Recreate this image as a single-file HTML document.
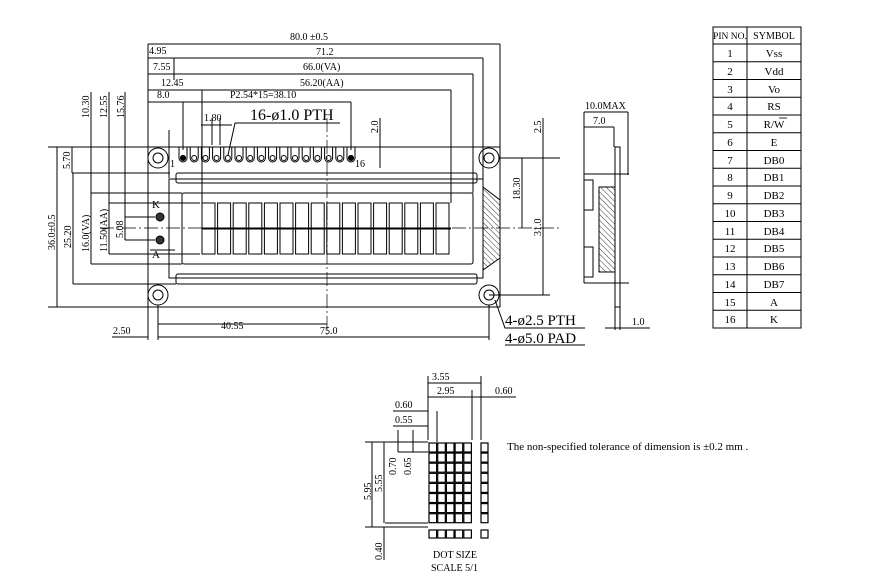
<!DOCTYPE html>
<html><head><meta charset="utf-8"><style>
html,body{margin:0;padding:0;background:#fff}
svg{display:block;font-family:"Liberation Serif",serif}
text{fill:#000}
</style></head><body>
<svg id="s" width="869" height="586" viewBox="0 0 869 586" xmlns="http://www.w3.org/2000/svg">
<defs>
<pattern id="h" width="4" height="4" patternUnits="userSpaceOnUse" patternTransform="rotate(-45)"><line x1="0" y1="0" x2="0" y2="4" stroke="#000" stroke-width="0.8"/></pattern>
</defs>
<g stroke="#000" stroke-width="1" fill="none">
<!-- PCB -->
<rect x="148" y="147" width="352" height="160"/>
<!-- holes -->
<g id="holes"></g>
<!-- bezel -->
<rect x="169" y="179" width="314" height="99"/>
<rect x="176" y="173" width="301" height="10" rx="2"/>
<rect x="176" y="274" width="301" height="10" rx="2"/>
<rect x="182" y="193" width="291" height="71" rx="2"/>
<polygon points="483,187 500,200 500,258 483,270" fill="url(#h)"/>
<!-- centerlines -->
<line x1="100" y1="228" x2="560" y2="228" stroke-dasharray="14,3,2,3" stroke-width="0.7"/>
<line x1="327" y1="118" x2="327" y2="335" stroke-dasharray="14,3,2,3" stroke-width="0.7"/>
<!-- top dims -->
<line x1="148" y1="44" x2="500" y2="44"/>
<line x1="148" y1="44" x2="148" y2="147"/><line x1="500" y1="44" x2="500" y2="147"/>
<line x1="148" y1="58" x2="483" y2="58"/><line x1="483" y1="58" x2="483" y2="179"/><line x1="174" y1="58" x2="174" y2="80"/>
<line x1="148" y1="74" x2="473" y2="74"/><line x1="473" y1="74" x2="473" y2="193"/>
<line x1="148" y1="90" x2="451" y2="90"/><line x1="451" y1="90" x2="451" y2="203"/><line x1="202" y1="90" x2="202" y2="203"/>
<line x1="148" y1="102" x2="351" y2="102"/><line x1="183" y1="102" x2="183" y2="150"/><line x1="351" y1="102" x2="351" y2="150"/>
<line x1="169" y1="130" x2="169" y2="178"/>
<line x1="201" y1="125" x2="232" y2="125"/><line x1="212" y1="118" x2="212" y2="145"/><line x1="220" y1="118" x2="220" y2="145"/>
<line x1="235" y1="123" x2="340" y2="123"/><line x1="235" y1="123" x2="228" y2="155"/>
<line x1="380" y1="118" x2="380" y2="168"/><line x1="351" y1="147" x2="385" y2="147"/>
<!-- left dims -->
<line x1="48" y1="147" x2="148" y2="147"/><line x1="48" y1="307" x2="148" y2="307"/><line x1="57" y1="147" x2="57" y2="307"/>
<line x1="72" y1="173" x2="170" y2="173"/><line x1="72" y1="147" x2="72" y2="173"/>
<line x1="73" y1="173" x2="73" y2="284"/><line x1="73" y1="284" x2="176" y2="284"/>
<line x1="91" y1="193" x2="91" y2="264"/><line x1="91" y1="193" x2="182" y2="193"/><line x1="91" y1="264" x2="182" y2="264"/>
<line x1="109" y1="203" x2="109" y2="254"/><line x1="109" y1="203" x2="200" y2="203"/><line x1="109" y1="254" x2="200" y2="254"/>
<line x1="125" y1="217" x2="125" y2="240"/><line x1="125" y1="217" x2="155" y2="217"/><line x1="125" y1="240" x2="155" y2="240"/>
<line x1="91" y1="92" x2="91" y2="193"/><line x1="109" y1="92" x2="109" y2="203"/><line x1="125" y1="92" x2="125" y2="217"/>
<line x1="150" y1="250" x2="175" y2="250"/>
<!-- right dims -->
<line x1="500" y1="158" x2="560" y2="158"/><line x1="489" y1="295" x2="550" y2="295"/>
<line x1="522" y1="158" x2="522" y2="228"/><line x1="543" y1="118" x2="543" y2="295"/>
<!-- bottom dims -->
<line x1="148" y1="307" x2="148" y2="340"/><line x1="158" y1="305" x2="158" y2="340"/><line x1="489" y1="305" x2="489" y2="340"/>
<line x1="158" y1="324" x2="327" y2="324"/><line x1="158" y1="337" x2="489" y2="337"/><line x1="112" y1="337" x2="148" y2="337"/>
<polyline points="495,300 505,328 585,328"/>
<line x1="505" y1="345" x2="585" y2="345"/>
<!-- side view -->
<line x1="584" y1="112" x2="628" y2="112"/><line x1="584" y1="127" x2="614" y2="127"/>
<line x1="584" y1="112" x2="584" y2="175"/><line x1="628" y1="112" x2="628" y2="175"/><line x1="614" y1="127" x2="614" y2="147"/>
<rect x="615" y="147" width="5" height="160"/>
<line x1="584" y1="174" x2="629" y2="174"/><line x1="584" y1="283" x2="629" y2="283"/>
<line x1="584" y1="174" x2="584" y2="283"/>
<rect x="584" y="180" width="9" height="30"/><rect x="584" y="247" width="9" height="30"/>
<rect x="599" y="187" width="16" height="85" fill="url(#h)"/>
<line x1="615" y1="307" x2="615" y2="330"/><line x1="620" y1="307" x2="620" y2="330"/><line x1="605" y1="328" x2="650" y2="328"/>
<!-- table -->
<rect x="713" y="27" width="88" height="301"/>
<line x1="747" y1="27" x2="747" y2="328"/>
<g id="rows"></g>
<!-- dot grid -->
<g id="dots"></g>
<line x1="428" y1="376" x2="428" y2="440"/><line x1="481" y1="376" x2="481" y2="440"/><line x1="472" y1="390" x2="472" y2="440"/>
<line x1="428" y1="383" x2="481" y2="383"/><line x1="428" y1="397" x2="472" y2="397"/><line x1="472" y1="397" x2="516" y2="397"/>
<line x1="393" y1="411" x2="428" y2="411"/><line x1="393" y1="426" x2="428" y2="426"/><line x1="437" y1="411" x2="437" y2="442"/>
<line x1="365" y1="442" x2="428" y2="442"/><line x1="365" y1="527" x2="428" y2="527"/><line x1="385" y1="523" x2="428" y2="523"/>
<line x1="372" y1="442" x2="372" y2="527"/><line x1="384" y1="442" x2="384" y2="523"/>
<line x1="398" y1="430" x2="398" y2="452"/><line x1="413" y1="430" x2="413" y2="452"/><line x1="398" y1="452" x2="428" y2="452"/>
<line x1="384" y1="527" x2="384" y2="560"/>
</g>
<g font-size="10">
<text x="290" y="40">80.0 ±0.5</text>
<text x="149" y="54">4.95</text><text x="316" y="55">71.2</text>
<text x="153" y="70">7.55</text><text x="303" y="70">66.0(VA)</text>
<text x="161" y="86">12.45</text><text x="300" y="86">56.20(AA)</text>
<text x="157" y="98">8.0</text><text x="230" y="98">P2.54*15=38.10</text>
<text x="204" y="121">1.80</text>
<text x="170" y="167">1</text><text x="355" y="167">16</text>
<text x="152" y="208" font-size="11">K</text><text x="152" y="258" font-size="11">A</text>
<text x="221" y="329">40.55</text><text x="320" y="334">75.0</text><text x="113" y="334">2.50</text>
<text x="585" y="109">10.0MAX</text><text x="593" y="124">7.0</text><text x="632" y="325">1.0</text>
<text x="507" y="450" font-size="11">The non-specified tolerance of dimension is ±0.2 mm .</text>
<text x="432" y="380">3.55</text><text x="437" y="394">2.95</text><text x="495" y="394">0.60</text>
<text x="395" y="408">0.60</text><text x="395" y="423">0.55</text>
<text x="433" y="558">DOT SIZE</text><text x="431" y="571">SCALE 5/1</text>
<g>
<text transform="translate(89,118) rotate(-90)">10.30</text>
<text transform="translate(107,118) rotate(-90)">12.55</text>
<text transform="translate(124,118) rotate(-90)">15.76</text>
<text transform="translate(70,169) rotate(-90)">5.70</text>
<text transform="translate(55,250) rotate(-90)">36.0±0.5</text>
<text transform="translate(71,248) rotate(-90)">25.20</text>
<text transform="translate(89,252) rotate(-90)">16.0(VA)</text>
<text transform="translate(107,252) rotate(-90)">11.50(AA)</text>
<text transform="translate(123,238) rotate(-90)">5.08</text>
<text transform="translate(378,133) rotate(-90)">2.0</text>
<text transform="translate(541,133) rotate(-90)">2.5</text>
<text transform="translate(520,200) rotate(-90)">18.30</text>
<text transform="translate(541,236) rotate(-90)">31.0</text>
<text transform="translate(371,500) rotate(-90)">5.95</text>
<text transform="translate(382,492) rotate(-90)">5.55</text>
<text transform="translate(396,475) rotate(-90)">0.70</text>
<text transform="translate(411,475) rotate(-90)">0.65</text>
<text transform="translate(382,560) rotate(-90)">0.40</text>
</g>
</g>
<text x="250" y="120" font-size="16">16-ø1.0 PTH</text>
<text x="505" y="325" font-size="15">4-ø2.5 PTH</text>
<text x="505" y="343" font-size="15">4-ø5.0 PAD</text>
<g font-size="11" text-anchor="middle">
<text x="730" y="39" font-size="9.5">PIN NO.</text><text x="774" y="39" font-size="10">SYMBOL</text>
<text x="730" y="57">1</text><text x="774" y="57">Vss</text>
<text x="730" y="75">2</text><text x="774" y="75">Vdd</text>
<text x="730" y="93">3</text><text x="774" y="93">Vo</text>
<text x="730" y="110">4</text><text x="774" y="110">RS</text>
<text x="730" y="128">5</text><text x="774" y="128">R/W</text>
<text x="730" y="146">6</text><text x="774" y="146">E</text>
<text x="730" y="164">7</text><text x="774" y="164">DB0</text>
<text x="730" y="181">8</text><text x="774" y="181">DB1</text>
<text x="730" y="199">9</text><text x="774" y="199">DB2</text>
<text x="730" y="217">10</text><text x="774" y="217">DB3</text>
<text x="730" y="235">11</text><text x="774" y="235">DB4</text>
<text x="730" y="252">12</text><text x="774" y="252">DB5</text>
<text x="730" y="270">13</text><text x="774" y="270">DB6</text>
<text x="730" y="288">14</text><text x="774" y="288">DB7</text>
<text x="730" y="306">15</text><text x="774" y="306">A</text>
<text x="730" y="323">16</text><text x="774" y="323">K</text>
</g>
<line x1="779" y1="118" x2="787" y2="118" stroke="#000" stroke-width="0.8"/>
</svg>
<script>
var NS="http://www.w3.org/2000/svg",s=document.getElementById('s');
function el(t,a,p){var e=document.createElementNS(NS,t);for(var k in a)e.setAttribute(k,a[k]);(p||s).appendChild(e);return e;}
var g=el('g',{stroke:'#000','stroke-width':1,fill:'none'});
[[158,158],[489,158],[158,295],[489,295]].forEach(function(c){el('circle',{cx:c[0],cy:c[1],r:10},g);el('circle',{cx:c[0],cy:c[1],r:5},g);});
for(var i=0;i<16;i++){var x=183+i*11.2;el('path',{d:'M'+(x-4)+' 147 V158 A4 4 0 0 0 '+(x+4)+' 158 V147'},g);el('circle',{cx:x,cy:158,r:2.5},g);}
el('circle',{cx:183,cy:158,r:2.5,fill:'#000'},g);el('circle',{cx:351,cy:158,r:2.5,fill:'#000'},g);
for(var i=0;i<16;i++){var x=202+i*15.6;el('rect',{x:x,y:203,width:13,height:25},g);el('rect',{x:x,y:229,width:13,height:25},g);}
el('line',{x1:202,y1:228.5,x2:451,y2:228.5,'stroke-width':2},g);
el('circle',{cx:160,cy:217,r:4,fill:'#333'},g);el('circle',{cx:160,cy:240,r:4,fill:'#333'},g);
for(var r=1;r<16;r++)el('line',{x1:713,y1:44+(r-1)*17.75,x2:801,y2:44+(r-1)*17.75},g);
el('line',{x1:713,y1:310.25,x2:801,y2:310.25},g);
for(var c=0;c<5;c++){for(var r=0;r<8;r++)el('rect',{x:429+c*8.7,y:443+r*10.1,width:7.6,height:9,'stroke-width':1.2},g);el('rect',{x:429+c*8.7,y:530,width:7.6,height:8,'stroke-width':1.2},g);}
for(var r=0;r<8;r++)el('rect',{x:481,y:443+r*10.1,width:7,height:9,'stroke-width':1.2},g);
el('rect',{x:481,y:530,width:7,height:8,'stroke-width':1.2},g);
</script>
</body></html>
